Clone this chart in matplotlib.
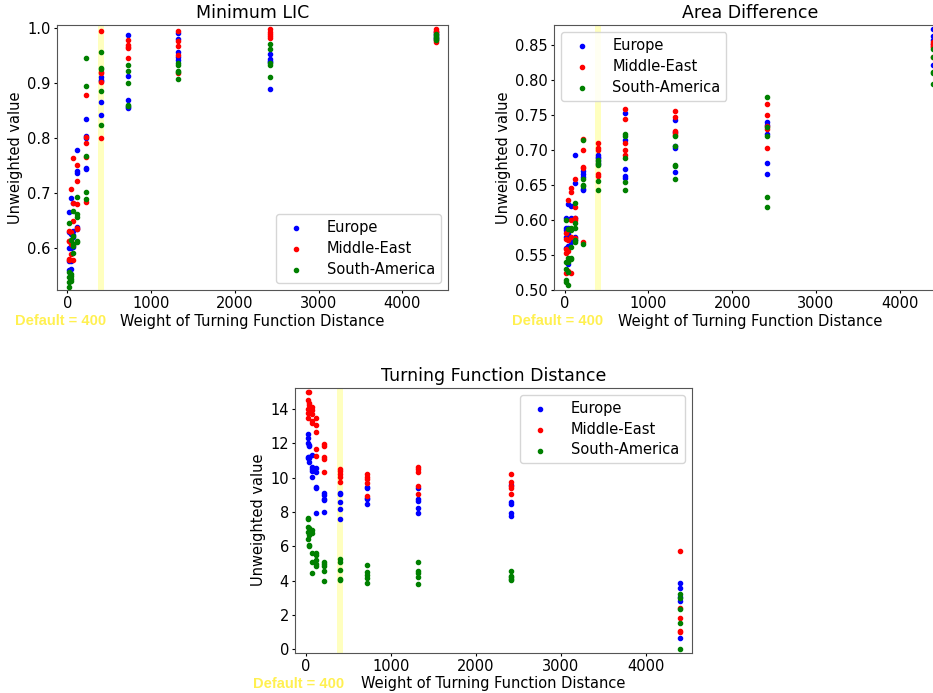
import numpy as np
import matplotlib
matplotlib.use("Agg")
import matplotlib.pyplot as plt
import matplotlib.transforms as mtransforms

# turning-function weights that were tried
weights = [20, 40, 70, 120, 220, 400, 720, 1320, 2420, 4400]
default_weight = 400
regions = ["Europe", "Middle-East", "South-America"]
region_colors = ["blue", "red", "green"]

# Minimum LIC, one row of runs per weight
lic_europe = [
    [0.665, 0.629, 0.599, 0.575, 0.560],
    [0.690, 0.626, 0.600, 0.575, 0.561],
    [0.681, 0.631, 0.624, 0.620, 0.602],
    [0.778, 0.740, 0.736, 0.637, 0.634],
    [0.834, 0.804, 0.800, 0.746, 0.744],
    [0.912, 0.906, 0.904, 0.865, 0.842],
    [0.987, 0.913, 0.870, 0.857, 0.855],
    [0.991, 0.981, 0.957, 0.947, 0.942],
    [0.953, 0.944, 0.941, 0.938, 0.890],
    [0.993, 0.989, 0.986, 0.983, 0.980],
]
lic_mideast = [
    [0.631, 0.613, 0.612, 0.580, 0.578],
    [0.707, 0.629, 0.612, 0.606, 0.588],
    [0.764, 0.682, 0.648, 0.605, 0.577],
    [0.750, 0.721, 0.679, 0.636, 0.634],
    [0.879, 0.801, 0.791, 0.765, 0.684],
    [0.996, 0.921, 0.918, 0.903, 0.800],
    [0.978, 0.969, 0.966, 0.965, 0.945],
    [0.996, 0.976, 0.967, 0.951, 0.919],
    [0.998, 0.994, 0.990, 0.986, 0.983],
    [0.999, 0.996, 0.993, 0.978, 0.975],
]
lic_southam = [
    [0.645, 0.556, 0.546, 0.537, 0.528],
    [0.615, 0.553, 0.548, 0.543, 0.540],
    [0.667, 0.621, 0.607, 0.604, 0.590],
    [0.693, 0.662, 0.656, 0.612, 0.611],
    [0.945, 0.895, 0.767, 0.701, 0.688],
    [0.956, 0.927, 0.925, 0.885, 0.824],
    [0.933, 0.923, 0.901, 0.861, 0.859],
    [0.937, 0.933, 0.922, 0.920, 0.908],
    [0.971, 0.962, 0.936, 0.934, 0.912],
    [0.990, 0.987, 0.985, 0.982, 0.979],
]

# Area Difference
area_europe = [
    [0.603, 0.588, 0.585, 0.576, 0.560],
    [0.622, 0.588, 0.580, 0.563, 0.537],
    [0.620, 0.603, 0.572, 0.571, 0.569],
    [0.692, 0.653, 0.603, 0.575, 0.572],
    [0.670, 0.665, 0.661, 0.644, 0.642],
    [0.692, 0.690, 0.688, 0.684, 0.680],
    [0.753, 0.714, 0.672, 0.663, 0.660],
    [0.743, 0.725, 0.705, 0.703, 0.669],
    [0.740, 0.736, 0.722, 0.681, 0.666],
    [0.872, 0.862, 0.857, 0.851, 0.821],
]
area_mideast = [
    [0.581, 0.573, 0.558, 0.553, 0.524],
    [0.628, 0.585, 0.572, 0.555, 0.527],
    [0.645, 0.640, 0.600, 0.575, 0.524],
    [0.659, 0.618, 0.603, 0.600, 0.574],
    [0.716, 0.700, 0.676, 0.674, 0.568],
    [0.709, 0.702, 0.700, 0.666, 0.663],
    [0.758, 0.744, 0.709, 0.700, 0.692],
    [0.755, 0.747, 0.727, 0.724, 0.721],
    [0.765, 0.750, 0.734, 0.730, 0.702],
    [0.854, 0.851, 0.848, 0.846, 0.833],
]
area_southam = [
    [0.600, 0.540, 0.530, 0.515, 0.512],
    [0.587, 0.545, 0.540, 0.525, 0.507],
    [0.588, 0.586, 0.561, 0.545, 0.544],
    [0.624, 0.595, 0.589, 0.572, 0.568],
    [0.714, 0.659, 0.650, 0.648, 0.566],
    [0.686, 0.681, 0.678, 0.655, 0.642],
    [0.722, 0.719, 0.689, 0.654, 0.643],
    [0.719, 0.706, 0.679, 0.677, 0.658],
    [0.776, 0.733, 0.719, 0.633, 0.619],
    [0.844, 0.832, 0.811, 0.809, 0.794],
]

# Turning Function Distance
tfd_europe = [
    [12.54, 12.29, 12.00, 11.22, 11.17],
    [11.90, 11.85, 11.20, 11.15, 10.90],
    [11.30, 10.60, 10.48, 10.40, 10.06],
    [10.54, 10.35, 9.48, 9.38, 7.96],
    [9.13, 8.97, 8.78, 8.68, 8.00],
    [9.11, 9.05, 8.58, 8.16, 7.57],
    [9.48, 9.42, 8.80, 8.75, 8.45],
    [9.38, 8.76, 8.66, 8.21, 7.92],
    [9.55, 8.60, 8.47, 7.92, 7.79],
    [3.88, 3.57, 3.03, 2.83, 0.68],
]
tfd_mideast = [
    [15.00, 14.55, 14.00, 13.78, 13.45],
    [15.00, 14.37, 14.23, 13.84, 13.75],
    [14.14, 13.94, 13.70, 13.30, 13.20],
    [13.46, 13.07, 12.68, 11.65, 11.26],
    [11.98, 11.84, 11.20, 11.11, 10.33],
    [10.52, 10.39, 10.23, 10.04, 9.75],
    [10.21, 10.06, 9.90, 9.71, 8.94],
    [10.60, 10.49, 10.35, 9.54, 9.03],
    [10.21, 9.73, 9.51, 9.42, 9.03],
    [5.73, 2.39, 1.84, 1.07, 1.01],
]
tfd_southam = [
    [7.63, 7.57, 7.15, 6.85, 6.40],
    [7.05, 6.85, 6.66, 6.08, 6.02],
    [6.95, 6.75, 5.63, 5.10, 4.43],
    [5.59, 5.50, 5.20, 4.97, 4.87],
    [5.09, 4.99, 4.85, 4.56, 3.98],
    [5.24, 5.09, 4.60, 4.12, 4.02],
    [4.91, 4.52, 4.33, 4.14, 3.88],
    [5.11, 4.58, 4.43, 4.23, 3.81],
    [4.58, 4.30, 4.19, 4.10, 4.04],
    [3.22, 2.97, 2.33, 1.55, 0.00],
]

FS = 10.5


def draw_panel(ax, title, series, ylim, legend_loc):
    for vals, name, col in zip(series, regions, region_colors):
        xs = np.repeat(weights, [len(v) for v in vals])
        ys = np.concatenate([np.asarray(v, dtype=float) for v in vals])
        ax.scatter(xs, ys, s=9, color=col, label=name, zorder=3)
    # highlight the default weight
    ax.axvspan(default_weight - 35, default_weight + 35,
               color="yellow", alpha=0.25, lw=0, zorder=1)
    ax.set_xlim(-127, 4549)
    ax.set_ylim(*ylim)
    ax.set_title(title, fontsize=12.5, pad=5)
    ax.set_xlabel("Weight of Turning Function Distance", fontsize=FS,
                  labelpad=2)
    ax.set_ylabel("Unweighted value", fontsize=FS, labelpad=3)
    ax.tick_params(labelsize=FS, length=2.5, pad=1.8)
    for sp in ax.spines.values():
        sp.set_edgecolor("#555555")
    ax.legend(loc=legend_loc, fontsize=FS, handletextpad=1.1,
              labelspacing=0.4)
    trans = mtransforms.blended_transform_factory(ax.transData,
                                                  ax.transAxes)
    ax.text(-625, 0, "Default = 400", transform=trans,
            color="#fff050", fontsize=10.5, fontweight="bold",
            family="Liberation Sans", va="baseline", ha="left")


fig = plt.figure(figsize=(9.33, 6.93), dpi=100)
ax1 = fig.add_axes([0.0608, 0.5815, 0.4197, 0.3824])
ax2 = fig.add_axes([0.5938, 0.5815, 0.4197, 0.3824])
ax3 = fig.add_axes([0.3162, 0.0582, 0.4258, 0.3824])

draw_panel(ax1, "Minimum LIC", [lic_europe, lic_mideast, lic_southam],
           (0.523, 1.006), "lower right")
draw_panel(ax2, "Area Difference", [area_europe, area_mideast, area_southam],
           (0.500, 0.878), "upper left")
ax2.set_yticks([0.50, 0.55, 0.60, 0.65, 0.70, 0.75, 0.80, 0.85])
draw_panel(ax3, "Turning Function Distance",
           [tfd_europe, tfd_mideast, tfd_southam],
           (-0.19, 15.24), "upper right")

# put the yellow note on the same baseline as each x label
fig.canvas.draw()
for ax in (ax1, ax2, ax3):
    lab = ax.xaxis.label
    bb = lab.get_window_extent()
    note = ax.texts[-1]
    desc = lab.get_fontsize() * fig.dpi / 72 * 0.24
    y_axes = ax.transAxes.inverted().transform((0, bb.y0 + desc))[1]
    note.set_y(y_axes)

fig.savefig("out.png", dpi=100)
